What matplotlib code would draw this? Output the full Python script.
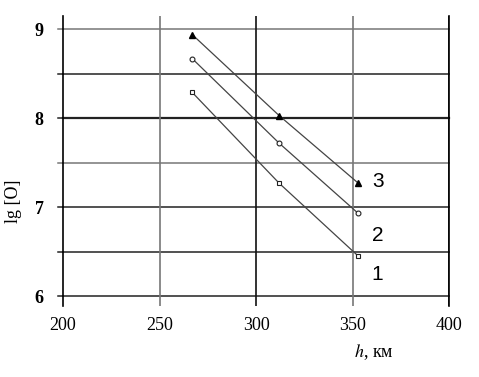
import matplotlib.pyplot as plt

plt.rcParams['mathtext.fontset'] = 'stix'

# высоты, км
h = [267, 312, 353]
lg_o_1 = [8.29, 7.27, 6.45]
lg_o_2 = [8.67, 7.72, 6.93]
lg_o_3 = [8.94, 8.03, 7.27]

x_ticks = [200, 250, 300, 350, 400]
y_ticks = [6, 7, 8, 9]
y_grid = [6, 6.5, 7, 7.5, 8, 8.5, 9]

fig = plt.figure(figsize=(4.79, 3.77), dpi=100)
ax = fig.add_axes([0.1315, 0.1883, 0.806, 0.7693])

ax.set_xlim(200, 400)
ax.set_ylim(5.89, 9.15)

# сетка
for y in y_grid:
    lw = 1.6 if y == 8 else 1.1
    col = '#777777' if y in (9, 7.5) else '#222222'
    ax.plot([200, 400], [y, y], color=col, lw=lw, zorder=1, clip_on=False)
    ax.plot([197.4, 200], [y, y], color=col, lw=1.1, zorder=1, clip_on=False)
for x in x_ticks[1:]:
    col = '#777777' if x in (250, 350) else '#111111'
    ax.axvline(x, color=col, lw=1.2, zorder=1)

ax.plot(h, lg_o_1, color='#444444', lw=0.9, marker='s', ms=3.5,
        mfc='white', mec='#222222', mew=0.8, zorder=3)
ax.plot(h, lg_o_2, color='#444444', lw=0.9, marker='o', ms=3.5,
        mfc='white', mec='#222222', mew=0.8, zorder=3)
ax.plot(h, lg_o_3, color='#444444', lw=0.9, marker='^', ms=4.5,
        mfc='black', mec='black', zorder=3)

# подписи кривых
for lbl, yv, dy in zip(['1', '2', '3'],
                       [lg_o_1[-1], lg_o_2[-1], lg_o_3[-1]],
                       [-0.21, -0.25, 0.02]):
    ax.text(360, yv + dy, lbl, fontsize=15, family='Liberation Sans',
            va='center')

for s in ['top', 'bottom']:
    ax.spines[s].set_visible(False)
ax.spines['left'].set_color('black')
ax.spines['right'].set_color('black')
ax.spines['left'].set_linewidth(1.2)
ax.spines['right'].set_linewidth(1.2)

ax.set_xticks(x_ticks)
ax.set_yticks(y_ticks)
ax.tick_params(length=0, pad=8)
ax.tick_params(axis='y', pad=14)
for t in ax.get_xticklabels():
    t.set_family('Liberation Serif')
    t.set_fontsize(13)
for t in ax.get_yticklabels():
    t.set_family('Liberation Serif')
    t.set_fontsize(13)
    t.set_fontweight('bold')

fig.text(0.78, 0.065, r'$h$, км', fontsize=13, family='Liberation Serif',
         ha='center', va='center')
fig.text(0.028, 0.465, 'lg [O]', fontsize=13, family='Liberation Serif',
         rotation=90, ha='center', va='center')

fig.savefig('out.png', dpi=100)
